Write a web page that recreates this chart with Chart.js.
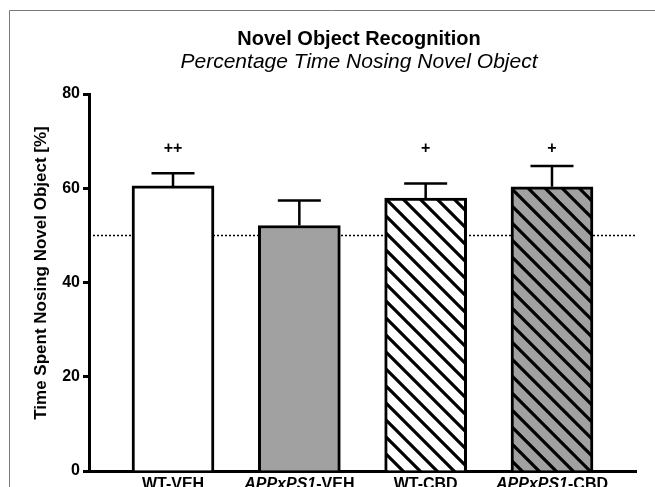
<!DOCTYPE html>
<html>
<head>
<meta charset="utf-8">
<style>
  html, body { margin: 0; padding: 0; background: #fff; }
  #wrap { width: 655px; height: 487px; position: relative; }
</style>
<script src="https://cdn.jsdelivr.net/npm/chart.js@4/dist/chart.umd.min.js"></script>
</head>
<body>
<div id="wrap"><canvas id="c" width="655" height="487"></canvas></div>
<script>
// Groups, means and SEM of percentage time spent nosing the novel object
const categories = ['WT-VEH', 'APPxPS1-VEH', 'WT-CBD', 'APPxPS1-CBD'];
const means = [60.5, 52.1, 57.9, 60.3];
const sems = [2.7, 5.3, 3.1, 4.4];
const marks = ['++', '', '+', '+'];
const hatched = [false, false, true, true];
const baseFills = ['#ffffff', '#a1a1a1', '#ffffff', '#a1a1a1'];
const yTicks = [0, 20, 40, 60, 80];
const chanceLevel = 50;
const markLevel = 68.4;
const italicPrefix = 'APPxPS1';

const FONT = '"Liberation Sans", Arial, Helvetica, sans-serif';

function makeHatch(bg) {
  const s = 17;
  const t = document.createElement('canvas');
  t.width = s; t.height = s;
  const g = t.getContext('2d');
  g.fillStyle = bg;
  g.fillRect(0, 0, s, s);
  g.strokeStyle = '#000';
  g.lineWidth = 3.2;
  g.beginPath();
  for (let k = -1; k <= 1; k++) {
    g.moveTo(k * s - 2, -2);
    g.lineTo(k * s + s + 2, s + 2);
  }
  g.stroke();
  return document.getElementById('c').getContext('2d').createPattern(t, 'repeat');
}

const fills = baseFills.map((bg, i) => hatched[i] ? makeHatch(bg) : bg);

// frame, titles, reference line, error bars, significance marks, group labels
const decorations = {
  id: 'decorations',
  beforeDraw(chart) {
    const ctx = chart.ctx;
    ctx.save();
    ctx.strokeStyle = '#7a7a7a';
    ctx.lineWidth = 1;
    ctx.beginPath();
    ctx.moveTo(9.5, 487);
    ctx.lineTo(9.5, 10.5);
    ctx.lineTo(655, 10.5);
    ctx.stroke();

    ctx.fillStyle = '#000';
    ctx.textAlign = 'center';
    ctx.textBaseline = 'alphabetic';
    ctx.font = 'bold 20px ' + FONT;
    ctx.fillText('Novel Object Recognition', 359, 45);
    ctx.font = 'italic 21px ' + FONT;
    ctx.fillText('Percentage Time Nosing Novel Object', 359, 68);

    // y axis title
    ctx.translate(41, 273);
    ctx.rotate(-Math.PI / 2);
    ctx.textBaseline = 'middle';
    ctx.font = 'bold 17px ' + FONT;
    ctx.fillText('Time Spent Nosing Novel Object [%]', 0, 0);
    ctx.restore();
  },
  beforeDatasetsDraw(chart) {
    const ctx = chart.ctx;
    const y = chart.scales.y;
    const area = chart.chartArea;
    const py = Math.round(y.getPixelForValue(chanceLevel)) + 0.5;
    ctx.save();
    ctx.strokeStyle = '#000';
    ctx.lineWidth = 1.5;
    ctx.setLineDash([2, 2]);
    ctx.beginPath();
    ctx.moveTo(area.left + 4, py);
    ctx.lineTo(area.right - 1, py);
    ctx.stroke();
    ctx.restore();
  },
  afterDatasetsDraw(chart) {
    const ctx = chart.ctx;
    const y = chart.scales.y;
    const x = chart.scales.x;
    const meta = chart.getDatasetMeta(0);
    ctx.save();
    ctx.strokeStyle = '#000';
    ctx.lineWidth = 2.5;
    meta.data.forEach((bar, i) => {
      const cx = bar.x;
      const top = y.getPixelForValue(means[i] + sems[i]);
      const base = y.getPixelForValue(means[i]);
      ctx.beginPath();
      ctx.moveTo(cx, base);
      ctx.lineTo(cx, top);
      ctx.moveTo(cx - 21.5, top);
      ctx.lineTo(cx + 21.5, top);
      ctx.stroke();
    });

    ctx.fillStyle = '#000';
    ctx.textAlign = 'center';
    ctx.textBaseline = 'middle';
    ctx.font = 'bold 16px ' + FONT;
    marks.forEach((m, i) => {
      if (m) ctx.fillText(m, x.getPixelForValue(i), y.getPixelForValue(markLevel));
    });

    // group labels with the transgenic line name in italics
    ctx.textAlign = 'left';
    ctx.textBaseline = 'alphabetic';
    categories.forEach((label, i) => {
      const parts = label.startsWith(italicPrefix)
        ? [[italicPrefix, true], [label.slice(italicPrefix.length), false]]
        : [[label, false]];
      let total = 0;
      parts.forEach(([t, it]) => {
        ctx.font = (it ? 'italic ' : '') + 'bold 16px ' + FONT;
        total += ctx.measureText(t).width;
      });
      let px = x.getPixelForValue(i) - total / 2;
      parts.forEach(([t, it]) => {
        ctx.font = (it ? 'italic ' : '') + 'bold 16px ' + FONT;
        ctx.fillText(t, px, 489);
        px += ctx.measureText(t).width;
      });
    });
    ctx.restore();
  }
};

new Chart(document.getElementById('c'), {
  type: 'bar',
  data: {
    datasets: [{
      data: means.map((m, i) => ({ x: i, y: m })),
      backgroundColor: fills,
      borderColor: '#000',
      borderWidth: 3,
      borderSkipped: 'bottom',
      barThickness: 82
    }]
  },
  options: {
    responsive: false,
    animation: false,
    events: [],
    layout: { padding: { top: 94, right: 19, left: 0, bottom: 0 } },
    plugins: { legend: { display: false }, tooltip: { enabled: false }, title: { display: false } },
    scales: {
      x: {
        type: 'linear',
        min: -0.665,
        max: 3.665,
        offset: false,
        grid: { display: false, offset: false },
        ticks: { display: false },
        border: { display: true, color: '#000', width: 3 },
        afterFit(s) { s.height = 16; }
      },
      y: {
        min: 0,
        max: 80,
        afterBuildTicks(s) { s.ticks = yTicks.map(v => ({ value: v })); },
        ticks: {
          color: '#000',
          padding: 3,
          font: { family: FONT, size: 16, weight: 'bold' }
        },
        grid: {
          drawOnChartArea: false,
          drawTicks: true,
          tickLength: 6,
          tickWidth: 3,
          tickColor: '#000'
        },
        border: { display: true, color: '#000', width: 3 },
        afterFit(s) { s.width = 89; }
      }
    }
  },
  plugins: [decorations]
});
</script>
</body>
</html>
